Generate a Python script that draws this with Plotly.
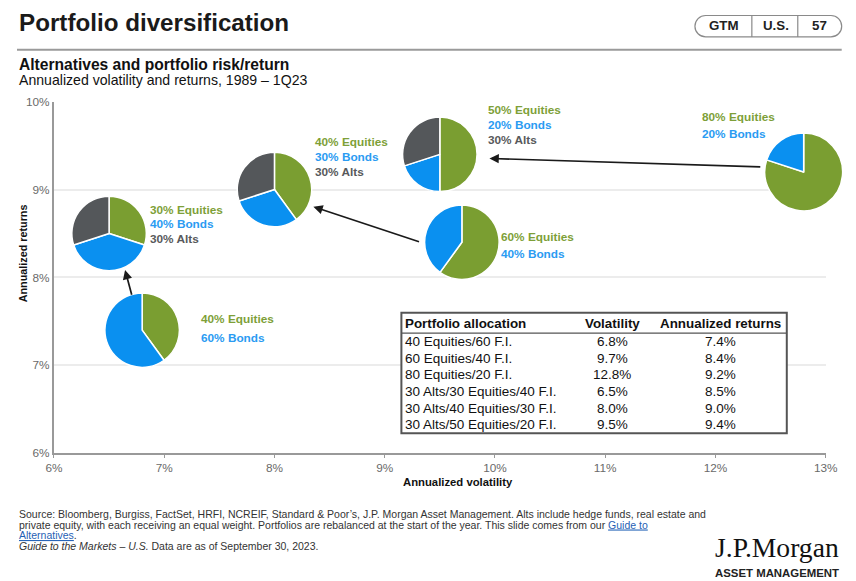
import plotly.graph_objects as go

# ---------------- data ----------------
allocations = ["40 Equities/60 F.I.", "60 Equities/40 F.I.", "80 Equities/20 F.I.",
               "30 Alts/30 Equities/40 F.I.", "30 Alts/40 Equities/30 F.I.", "30 Alts/50 Equities/20 F.I."]
volatility = [6.8, 9.7, 12.8, 6.5, 8.0, 9.5]
returns = [7.4, 8.4, 9.2, 8.5, 9.0, 9.4]
equities = [40, 60, 80, 30, 40, 50]
bonds = [60, 40, 20, 40, 30, 20]
alts = [0, 0, 0, 30, 30, 30]
x_ticks = [6, 7, 8, 9, 10, 11, 12, 13]
y_ticks = [6, 7, 8, 9, 10]
table_header = ["Portfolio allocation", "Volatility", "Annualized returns"]

# ---------------- styles / layout ----------------
FW, FH = 856, 581
# the captured page is drawn at this offset / scale; positions below are in picture pixels
OFF_X, OFF_Y, SC_X, SC_Y = 16.0, 13.0, 0.977, 0.98
PL, PR, PT, PB = 53, 826, 100, 453          # plot area in picture pixels
XR, YR = [6, 13], [6, 10]
GREEN, BLUE, GRAY = "#7A9E31", "#0A90F0", "#54575A"
LBL_GREEN, LBL_BLUE, LBL_GRAY = "#7E9F38", "#2A9BF2", "#58595B"
FONT = "Liberation Sans, Arial, sans-serif"

pie_radius_px = [37.3, 37.3, 39, 37.3, 37.3, 37.3]
# label placement per pie: (dx, dy of first line, line spacing) in picture pixels
label_offsets = [(55.5, -10.5, 18), (36.5, -5.2, 17), (-101, -53.6, 16),
                 (38, -23.4, 14.5), (38, -46.5, 14.5), (45.5, -43.2, 14.5)]


def fx(sx):
    return max(0.0, (sx - OFF_X) / SC_X)


def fy(sy):
    return max(0.0, (sy - OFF_Y) / SC_Y)


def xp(sx):
    return fx(sx) / FW


def yp(sy):
    return 1 - fy(sy) / FH


X_DOM = [xp(PL), xp(PR)]
Y_DOM = [yp(PB), yp(PT)]


def data_to_paper(x, y):
    tx = (x - XR[0]) / (XR[1] - XR[0])
    ty = (y - YR[0]) / (YR[1] - YR[0])
    return X_DOM[0] + tx * (X_DOM[1] - X_DOM[0]), Y_DOM[0] + ty * (Y_DOM[1] - Y_DOM[0])


fig = go.Figure()

# invisible scatter to anchor axes
fig.add_trace(go.Scatter(x=volatility, y=returns, mode="markers",
                         marker=dict(size=1, opacity=0), hoverinfo="skip", showlegend=False))

annotations = []
for i in range(len(allocations)):
    cx, cy = data_to_paper(volatility[i], returns[i])
    rx, ry = pie_radius_px[i] / SC_X / FW, pie_radius_px[i] / SC_X / FH
    vals, cols, labs = [], [], []
    for v, c, lb, lc in ((equities[i], GREEN, f"{equities[i]}% Equities", LBL_GREEN),
                         (bonds[i], BLUE, f"{bonds[i]}% Bonds", LBL_BLUE),
                         (alts[i], GRAY, f"{alts[i]}% Alts", LBL_GRAY)):
        if v > 0:
            vals.append(v)
            cols.append(c)
            labs.append((lb, lc))
    fig.add_trace(go.Pie(values=vals, sort=False, direction="clockwise", rotation=0,
                         marker=dict(colors=cols, line=dict(color="white", width=1.5)),
                         textinfo="none", hoverinfo="skip", showlegend=False,
                         domain=dict(x=[cx - rx, cx + rx], y=[cy - ry, cy + ry])))
    dx, dy, sp = label_offsets[i]
    for k, (txt, col) in enumerate(labs):
        annotations.append(dict(x=volatility[i], y=returns[i], xref="x", yref="y",
                                text=f"<b>{txt}</b>", showarrow=False, xanchor="left",
                                yanchor="middle", xshift=dx / SC_X, yshift=-(dy + k * sp) / SC_Y,
                                font=dict(family=FONT, size=11.8, color=col)))

# arrows (head x,y ; tail ax,ay) in data units
arrows = [((6.645, 8.085), (6.709, 7.785)),
          ((8.353, 8.804), (9.325, 8.400)),
          ((9.950, 9.354), (12.420, 9.257))]
for (hx, hy), (tx, ty) in arrows:
    annotations.append(dict(x=hx, y=hy, ax=tx, ay=ty, xref="x", yref="y", axref="x", ayref="y",
                            showarrow=True, arrowhead=2, arrowsize=1.1, arrowwidth=1.7,
                            arrowcolor="#1a1a1a", text=""))

shapes = []
# header rule
shapes.append(dict(type="line", xref="paper", yref="paper", x0=0, x1=xp(842),
                   y0=yp(48), y1=yp(48), line=dict(color="#9a9a9a", width=2)))
# pill
px0, px1, py0, py1 = 695, 842, 13.5, 35
r = (py1 - py0) / 2
k = 0.5523


def P(x, y):
    return f"{xp(x):.6f},{yp(y):.6f}"


path = (f"M {P(px0 + r, py0)} L {P(px1 - r, py0)} "
        f"C {P(px1 - r + k * r, py0)} {P(px1, py0 + r - k * r)} {P(px1, py0 + r)} "
        f"C {P(px1, py0 + r + k * r)} {P(px1 - r + k * r, py1)} {P(px1 - r, py1)} "
        f"L {P(px0 + r, py1)} "
        f"C {P(px0 + r - k * r, py1)} {P(px0, py0 + r + k * r)} {P(px0, py0 + r)} "
        f"C {P(px0, py0 + r - k * r)} {P(px0 + r - k * r, py0)} {P(px0 + r, py0)} Z")
shapes.append(dict(type="path", xref="paper", yref="paper", path=path,
                   line=dict(color="#8a8a8a", width=1.2)))
for dxp in (752, 798):
    shapes.append(dict(type="line", xref="paper", yref="paper", x0=xp(dxp), x1=xp(dxp),
                       y0=yp(py0), y1=yp(py1), line=dict(color="#8a8a8a", width=1.2)))
for txt, cxp in (("GTM", 724), ("U.S.", 776), ("57", 820)):
    annotations.append(dict(x=xp(cxp), y=yp(24), xref="paper", yref="paper", text=txt,
                            showarrow=False, xanchor="center", yanchor="middle",
                            font=dict(family=FONT, size=13.3, color="#222", weight=600)))

# table box
tb_l, tb_r, tb_t, tb_b = 401, 787, 312, 433
shapes.append(dict(type="rect", xref="paper", yref="paper", x0=xp(tb_l), x1=xp(tb_r),
                   y0=yp(tb_b), y1=yp(tb_t), fillcolor="white",
                   line=dict(color="#555", width=2), layer="above"))
shapes.append(dict(type="line", xref="paper", yref="paper", x0=xp(tb_l), x1=xp(tb_r),
                   y0=yp(332.5), y1=yp(332.5), line=dict(color="#555", width=1.2), layer="above"))
col_x = [(403, "left"), (612, "center"), (721, "center")]
for j, h in enumerate(table_header):
    cxp, anc = col_x[j]
    annotations.append(dict(x=xp(cxp), y=yp(323), xref="paper", yref="paper",
                            text=f"<b>{h}</b>", showarrow=False, xanchor=anc, yanchor="middle",
                            font=dict(family=FONT, size=13.4, color="#111")))
for i in range(len(allocations)):
    ry_ = 341 + i * 16.7
    cells = [allocations[i], f"{volatility[i]:.1f}%", f"{returns[i]:.1f}%"]
    for j, c in enumerate(cells):
        cxp, anc = col_x[j]
        annotations.append(dict(x=xp(cxp), y=yp(ry_), xref="paper", yref="paper",
                                text=c, showarrow=False, xanchor=anc, yanchor="middle",
                                font=dict(family=FONT, size=13.5, color="#111")))

# titles
annotations += [
    dict(x=0, y=yp(21), xref="paper", yref="paper", text="Portfolio diversification",
         showarrow=False, xanchor="left", yanchor="middle",
         font=dict(family=FONT, size=24.2, color="#1a1a1a", weight=600)),
    dict(x=0, y=yp(63), xref="paper", yref="paper",
         text="<b>Alternatives and portfolio risk/return</b>", showarrow=False,
         xanchor="left", yanchor="middle", font=dict(family=FONT, size=15.6, color="#111")),
    dict(x=0, y=yp(78), xref="paper", yref="paper",
         text="Annualized volatility and returns, 1989 – 1Q23", showarrow=False,
         xanchor="left", yanchor="middle", font=dict(family=FONT, size=14.1, color="#111")),
    dict(x=xp(458), y=yp(482), xref="paper", yref="paper", text="<b>Annualized volatility</b>",
         showarrow=False, xanchor="center", yanchor="middle",
         font=dict(family=FONT, size=11.3, color="#111")),
    dict(x=6.5 / FW, y=yp(252), xref="paper", yref="paper", text="<b>Annualized returns</b>",
         showarrow=False, xanchor="center", yanchor="middle", textangle=-90,
         font=dict(family=FONT, size=10.8, color="#111")),
]

# footer: one block; small base size gives tight line spacing, spans carry the glyph size
FS = "font-size:10.5px"
LINK = f"color:#1f5fb5;text-decoration:underline;{FS}"
foot_lines = [
    f"<span style='{FS}'>Source: Bloomberg, Burgiss, FactSet, HRFI, NCREIF, Standard &amp; Poor’s, J.P. Morgan Asset Management. Alts include hedge funds, real estate and</span>",
    f"<span style='{FS}'>private equity, with each receiving an equal weight. Portfolios are rebalanced at the start of the year. This slide comes from our </span>"
    f"<span style='{LINK}'>Guide to</span>",
    f"<span style='{LINK}'>Alternatives</span><span style='{FS}'>.</span>",
    f"<span style='{FS}'><i>Guide to the Markets – U.S.</i> Data are as of September 30, 2023.</span>",
]
annotations.append(dict(x=0, y=yp(530), xref="paper", yref="paper", text="<br>".join(foot_lines),
                        showarrow=False, xanchor="left", yanchor="middle", align="left",
                        font=dict(family=FONT, size=8.1, color="#333")))

annotations += [
    dict(x=xp(841), y=yp(548), xref="paper", yref="paper", text="J.P.Morgan",
         showarrow=False, xanchor="right", yanchor="middle",
         font=dict(family="Liberation Serif, Times New Roman, serif", size=27.6, color="#111")),
    dict(x=xp(841), y=yp(573), xref="paper", yref="paper", text="<b>ASSET MANAGEMENT</b>",
         showarrow=False, xanchor="right", yanchor="middle",
         font=dict(family=FONT, size=11.4, color="#222")),
]

fig.update_layout(
    width=FW, height=FH, margin=dict(l=0, r=0, t=0, b=0, pad=0),
    paper_bgcolor="white", plot_bgcolor="white", showlegend=False,
    xaxis=dict(domain=X_DOM, range=XR, tickvals=x_ticks, ticktext=[f"{v}%" for v in x_ticks],
               showgrid=False, zeroline=False, showline=True, linecolor="#999", linewidth=1.5,
               ticks="outside", ticklen=3, tickcolor="#999",
               tickfont=dict(family=FONT, size=11.8, color="#6a6a6a"), fixedrange=True),
    yaxis=dict(domain=Y_DOM, range=YR, tickvals=y_ticks, ticktext=[f"{v}%" for v in y_ticks],
               showgrid=True, gridcolor="#ececec", gridwidth=1.5, zeroline=False,
               showline=True, linecolor="#999", linewidth=2, ticks="",
               tickfont=dict(family=FONT, size=11.8, color="#6a6a6a"), fixedrange=True),
    annotations=annotations, shapes=shapes,
)

fig.write_html("out.html")
